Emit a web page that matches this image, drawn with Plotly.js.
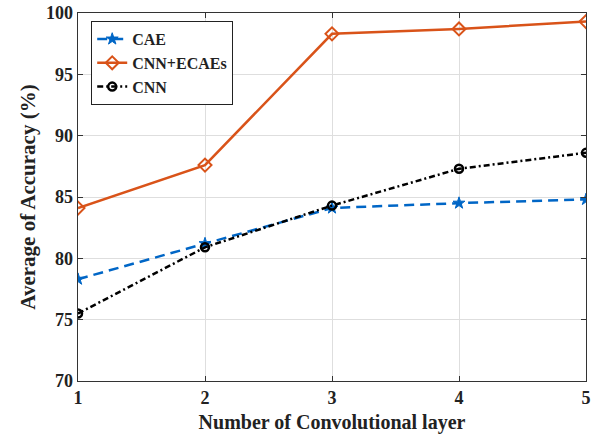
<!DOCTYPE html>
<html>
<head>
<meta charset="utf-8">
<script src="https://cdn.plot.ly/plotly-3.0.1.min.js"></script>
<style>html,body{margin:0;padding:0;background:#fff;}#chart{width:597px;height:435px;}</style>
</head>
<body>
<div id="chart"></div>
<script>
const layers = [1, 2, 3, 4, 5];
const cae = [78.3, 81.2, 84.1, 84.5, 84.8];
const cnnEcaes = [84.1, 87.6, 98.3, 98.7, 99.3];
const cnn = [75.5, 80.9, 84.3, 87.3, 88.6];
const yTicks = [70, 75, 80, 85, 90, 95, 100];

const font = {family: '"Liberation Serif", "Times New Roman", serif', color: '#222'};

const traces = [
  {x: layers, y: cae, name: 'CAE', mode: 'lines+markers',
   line: {color: '#0066c6', width: 2.5, dash: '10px,6px'},
   marker: {symbol: 'star', size: 9, color: '#0066c6', line: {color: '#0066c6', width: 1}}},
  {x: layers, y: cnnEcaes, name: 'CNN+ECAEs', mode: 'lines+markers',
   line: {color: '#d95319', width: 2.5},
   marker: {symbol: 'diamond-open', size: 10, color: '#d95319', line: {color: '#d95319', width: 2}}},
  {x: layers, y: cnn, name: 'CNN', mode: 'lines+markers',
   line: {color: '#000000', width: 2.5, dash: '6px,3px,2px,3px'},
   marker: {symbol: 'circle-open', size: 8, color: '#000', line: {color: '#000', width: 2.5}}}
];

const layout = {
  width: 597, height: 435,
  margin: {l: 78, r: 11, t: 13, b: 54},
  paper_bgcolor: '#fff', plot_bgcolor: '#fff',
  font: font,
  showlegend: true,
  legend: {x: 0.026, y: 0.978, xanchor: 'left', yanchor: 'top',
           bgcolor: '#fff', bordercolor: '#222', borderwidth: 1,
           font: {family: font.family, size: 16, weight: 'bold', color: '#222'},
           tracegroupgap: 0, itemwidth: 30},
  xaxis: {range: [1, 5], tickvals: layers, ticktext: layers.map(String),
          showgrid: true, gridcolor: '#dedede', gridwidth: 1,
          showline: true, linecolor: '#333', linewidth: 1.3, mirror: 'ticks',
          ticks: 'inside', ticklen: 5, tickcolor: '#333',
          tickfont: {family: font.family, size: 18, weight: 'bold', color: '#222'},
          zeroline: false,
          title: {text: 'Number of Convolutional layer', standoff: 8,
                  font: {family: font.family, size: 20, weight: 'bold', color: '#222'}}},
  yaxis: {range: [70, 100], tickvals: yTicks,
          showgrid: true, gridcolor: '#dedede', gridwidth: 1,
          showline: true, linecolor: '#333', linewidth: 1.3, mirror: 'ticks',
          ticks: 'inside', ticklen: 5, tickcolor: '#333',
          tickfont: {family: font.family, size: 18, weight: 'bold', color: '#222'},
          zeroline: false,
          title: {text: 'Average of Accuracy (%)', standoff: 4,
                  font: {family: font.family, size: 21, weight: 'bold', color: '#222'}}}
};

Plotly.newPlot('chart', traces, layout, {displayModeBar: false, staticPlot: true});
</script>
</body>
</html>
